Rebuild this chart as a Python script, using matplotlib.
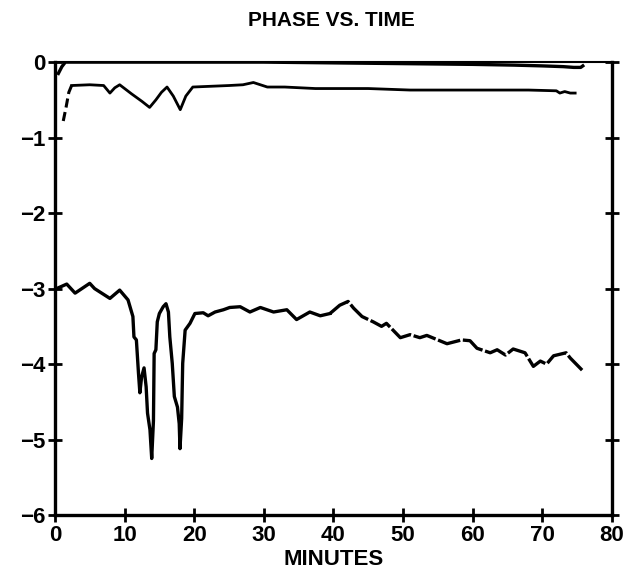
import matplotlib
matplotlib.use("Agg")
import matplotlib.pyplot as plt

# top trace (near zero)
top_x = [0.5, 1.0, 1.5, 10, 20, 30, 40, 50, 60, 66, 70, 73, 74.5, 75.5, 75.8]
top_y = [-0.15, -0.06, 0.0, 0.0, 0.0, 0.0, -0.01, -0.02, -0.03, -0.04, -0.05, -0.06, -0.07, -0.07, -0.05]

# second trace (around -0.3)
mid_x = [1.2, 1.6, 2.0, 2.4, 5.0, 7.0, 7.9, 8.6, 9.3, 11.0, 12.5, 13.6, 14.5, 15.3, 16.1,
         17.0, 18.0, 18.8, 19.8, 25, 27.0, 28.5, 30.5, 33, 37.4, 45, 51, 60, 68, 72.0,
         72.5, 73.2, 74.0, 74.7]
mid_y = [-0.78, -0.6, -0.4, -0.31, -0.3, -0.31, -0.41, -0.34, -0.3, -0.42, -0.52, -0.6, -0.5, -0.4, -0.33,
         -0.45, -0.63, -0.45, -0.33, -0.31, -0.3, -0.27, -0.33, -0.33, -0.35, -0.35, -0.37, -0.37, -0.37, -0.38,
         -0.41, -0.39, -0.41, -0.41]

# bottom trace
low_x = [0.24, 1.7, 2.9, 5.0, 5.7, 7.9, 9.3, 10.5, 11.2, 11.35, 11.7, 12.0, 12.2, 12.45, 12.8, 13.1,
         13.3, 13.65, 13.9, 14.15, 14.25, 14.5, 14.7, 15.0, 15.55, 15.95, 16.3, 16.5, 16.85, 17.15,
         17.6, 17.85, 17.96, 18.2, 18.35, 18.7, 19.4, 20.1, 21.3, 22.0, 23.0, 24.2, 25.1, 26.6,
         28.0, 29.5, 31.4, 33.3, 34.7, 36.6, 38.1, 39.5, 40.9, 42.1, 42.9, 44.1, 45.7, 46.9,
         47.6, 49.6, 51.0, 52.4, 53.4, 56.3, 58.4, 59.6, 60.6, 62.5, 63.5, 64.7, 65.8, 67.5,
         68.7, 69.7, 70.6, 71.6, 73.4, 74.0, 75.7]
low_y = [-3.0, -2.94, -3.06, -2.93, -3.0, -3.13, -3.02, -3.15, -3.37, -3.64, -3.68, -4.12, -4.38, -4.17, -4.05, -4.3,
         -4.65, -4.87, -5.25, -4.75, -3.86, -3.81, -3.44, -3.33, -3.24, -3.2, -3.31, -3.64, -3.99, -4.43,
         -4.57, -4.79, -5.12, -4.72, -3.99, -3.55, -3.46, -3.33, -3.32, -3.36, -3.31, -3.28, -3.25, -3.24,
         -3.31, -3.25, -3.31, -3.28, -3.41, -3.31, -3.36, -3.33, -3.22, -3.17, -3.26, -3.37, -3.44, -3.5,
         -3.46, -3.65, -3.61, -3.65, -3.62, -3.73, -3.68, -3.69, -3.79, -3.85, -3.81, -3.88, -3.8, -3.85,
         -4.03, -3.96, -4.0, -3.89, -3.85, -3.92, -4.08]

x_ticks = [0, 10, 20, 30, 40, 50, 60, 70, 80]
y_ticks = [0, -1, -2, -3, -4, -5, -6]

plt.rcParams["font.family"] = ["Liberation Sans", "DejaVu Sans"]
plt.rcParams["font.weight"] = "bold"

fig = plt.figure(figsize=(6.31, 5.86), dpi=100)
ax = fig.add_axes([0.087, 0.121, 0.883, 0.773])

ax.plot(top_x, top_y, color="black", lw=2.4)
ax.plot(mid_x[:4], mid_y[:4], color="black", lw=2.2, dashes=(3, 1.5))
ax.plot(mid_x[3:], mid_y[3:], color="black", lw=2.0)
split = low_x.index(39.5)
ax.plot(low_x[:split + 1], low_y[:split + 1], color="black", lw=2.4)
ax.plot(low_x[split:], low_y[split:], color="black", lw=2.4, dashes=(7, 0.8))

ax.set_xlim(0, 80)
ax.set_ylim(-6, 0)
ax.set_xticks(x_ticks)
ax.set_yticks(y_ticks)
ax.set_yticklabels(["0" if v == 0 else f"\u2212{abs(v)}" for v in y_ticks])
ax.tick_params(direction="inout", length=10, width=2, labelsize=16,
               right=True, pad=2, color="black")
for lab in ax.get_xticklabels() + ax.get_yticklabels():
    lab.set_fontweight("bold")
for side in ["left", "bottom", "right"]:
    ax.spines[side].set_linewidth(2.4)
ax.spines["top"].set_linewidth(1.5)

ax.set_xlabel("MINUTES", fontsize=16, fontweight="bold", labelpad=2)
fig.text(0.525, 0.965, "PHASE VS. TIME", ha="center", va="center",
         fontsize=15, fontweight="bold")

fig.savefig("out.png", dpi=100)
